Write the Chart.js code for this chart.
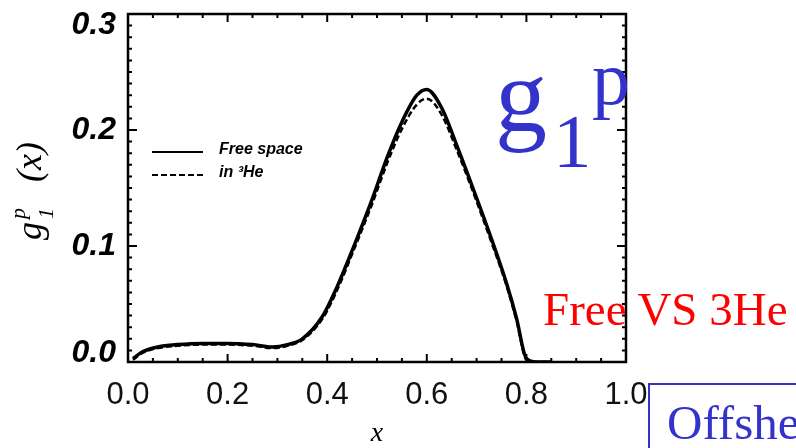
<!DOCTYPE html>
<html>
<head>
<meta charset="utf-8">
<script src="https://cdn.jsdelivr.net/npm/chart.js@4.4.1/dist/chart.umd.min.js"></script>
<style>
  body { margin: 0; background: #fff; overflow: hidden; }
  #wrap { position: relative; width: 796px; height: 448px; }
  .note { position: absolute; white-space: nowrap; line-height: 1; font-family: "Liberation Serif", "Times New Roman", serif; }
  .blue { color: #3333cc; }
  #box { position: absolute; left: 648px; top: 383px; width: 160px; height: 80px; border: 2px solid #3333cc; }
</style>
</head>
<body>
<div id="wrap">
  <canvas id="chart" width="796" height="448"></canvas>
  <span class="note blue" style="left:495px; top:44px; font-size:104px;">g</span>
  <span class="note blue" style="left:553px; top:103px; font-size:77px;">1</span>
  <span class="note blue" style="left:592px; top:40px; font-size:76px;">p</span>
  <span class="note" style="left:543px; top:286px; font-size:47px; color:#ff0000;">Free VS 3He</span>
  <div id="box"></div>
  <span class="note blue" style="left:667px; top:398px; font-size:49px;">Offshe</span>
</div>
<script>
// g1^p(x)
var xs     = [0.01, 0.03, 0.06, 0.10, 0.15, 0.20, 0.25, 0.29, 0.32, 0.35, 0.39, 0.42, 0.45, 0.49, 0.52, 0.55, 0.58, 0.60, 0.63, 0.66, 0.69, 0.73, 0.76, 0.78, 0.80, 0.82, 0.85];
var free   = [0.003, 0.009, 0.013, 0.015, 0.016, 0.016, 0.015, 0.013, 0.015, 0.020, 0.039, 0.065, 0.096, 0.140, 0.176, 0.207, 0.230, 0.235, 0.219, 0.187, 0.153, 0.106, 0.068, 0.038, 0.003, 0.000, 0.000];
var in3He  = [0.002, 0.008, 0.012, 0.014, 0.015, 0.015, 0.014, 0.012, 0.014, 0.019, 0.037, 0.062, 0.093, 0.136, 0.171, 0.201, 0.222, 0.227, 0.213, 0.183, 0.150, 0.103, 0.066, 0.036, 0.002, 0.000, 0.000];
var seriesNames = ['Free space', 'in \u00b3He'];
var xTicks = [0, 0.2, 0.4, 0.6, 0.8, 1.0];
var yTicks = [0, 0.1, 0.2, 0.3];

function pts(ys) {
  return xs.map(function (x, i) { return { x: x, y: ys[i] }; });
}

// box, inward ticks, y labels, axis titles, legend
var decor = {
  id: 'decor',
  afterDraw: function (chart) {
    var ctx = chart.ctx, a = chart.chartArea, sx = chart.scales.x, sy = chart.scales.y;
    ctx.save();
    ctx.strokeStyle = '#000';
    ctx.lineWidth = 2.5;
    ctx.strokeRect(a.left, a.top, a.right - a.left, a.bottom - a.top);

    ctx.lineWidth = 2;
    ctx.beginPath();
    for (var i = 0; i <= 20; i++) {
      var px = sx.getPixelForValue(i * 0.05), l = (i % 4 === 0) ? 8 : 4;
      ctx.moveTo(px, a.bottom); ctx.lineTo(px, a.bottom - l);
      ctx.moveTo(px, a.top); ctx.lineTo(px, a.top + l);
    }
    for (var j = 0; j <= 30; j++) {
      var py = sy.getPixelForValue(j * 0.01), m = (j % 10 === 0) ? 9 : 4;
      ctx.moveTo(a.left, py); ctx.lineTo(a.left + m, py);
      ctx.moveTo(a.right, py); ctx.lineTo(a.right - m, py);
    }
    ctx.stroke();

    // y tick labels, kept inside the frame like the scan
    ctx.fillStyle = '#000';
    ctx.font = 'italic bold 32px "Liberation Sans", Arial, sans-serif';
    ctx.textAlign = 'right';
    ctx.textBaseline = 'middle';
    yTicks.forEach(function (v) {
      var py = Math.min(Math.max(sy.getPixelForValue(v), a.top + 11), a.bottom - 9);
      ctx.fillText(v.toFixed(1), 116, py);
    });

    // x title
    ctx.font = 'italic 28px "Liberation Serif", serif';
    ctx.textAlign = 'center';
    ctx.textBaseline = 'alphabetic';
    ctx.fillText('x', 377, 441);

    // y title g_1^p (x), read bottom to top
    ctx.translate(41, 240);
    ctx.rotate(-Math.PI / 2);
    ctx.textAlign = 'left';
    ctx.font = 'italic 36px "Liberation Serif", serif';
    ctx.fillText('g', 0, 0);
    ctx.fillText('(x)', 58, 0);
    ctx.font = 'italic 22px "Liberation Serif", serif';
    ctx.fillText('1', 21, 12);
    ctx.fillText('p', 21, -16);
    ctx.setTransform(1, 0, 0, 1, 0, 0);

    // legend
    chart.data.datasets.forEach(function (ds, k) {
      var ly = 152 + k * 23;
      ctx.strokeStyle = '#000';
      ctx.lineWidth = 2;
      ctx.setLineDash(ds.borderDash || []);
      ctx.beginPath(); ctx.moveTo(152, ly); ctx.lineTo(203, ly); ctx.stroke();
      ctx.setLineDash([]);
      ctx.font = 'italic bold 16px "Liberation Sans", Arial, sans-serif';
      ctx.textBaseline = 'middle';
      ctx.fillText(ds.label, 219, ly - 2);
    });
    ctx.restore();
  }
};

new Chart(document.getElementById('chart'), {
  type: 'line',
  data: {
    datasets: [
      { label: seriesNames[0], data: pts(free), borderColor: '#000', borderWidth: 3.5, pointRadius: 0, cubicInterpolationMode: 'monotone', fill: false },
      { label: seriesNames[1], data: pts(in3He), borderColor: '#000', borderWidth: 2.5, borderDash: [6, 3], pointRadius: 0, cubicInterpolationMode: 'monotone', fill: false }
    ]
  },
  options: {
    responsive: false,
    devicePixelRatio: 1,
    animation: false,
    layout: { padding: { top: 14, right: 170, left: 0, bottom: 0 } },
    plugins: { legend: { display: false }, tooltip: { enabled: false } },
    scales: {
      x: {
        type: 'linear', min: 0, max: 1,
        afterFit: function (s) { s.height = 86; },
        afterBuildTicks: function (s) { s.ticks = xTicks.map(function (v) { return { value: v }; }); },
        grid: { display: false, drawTicks: false },
        border: { display: false },
        ticks: {
          padding: 15, color: '#111', maxRotation: 0,
          font: { family: '"Liberation Sans", Arial, sans-serif', size: 31 },
          callback: function (v) { return v.toFixed(1); }
        }
      },
      y: {
        type: 'linear', min: 0, max: 0.3,
        afterFit: function (s) { s.width = 128; },
        grid: { display: false, drawTicks: false },
        border: { display: false },
        ticks: { display: false }
      }
    }
  },
  plugins: [decor]
});
</script>
</body>
</html>
